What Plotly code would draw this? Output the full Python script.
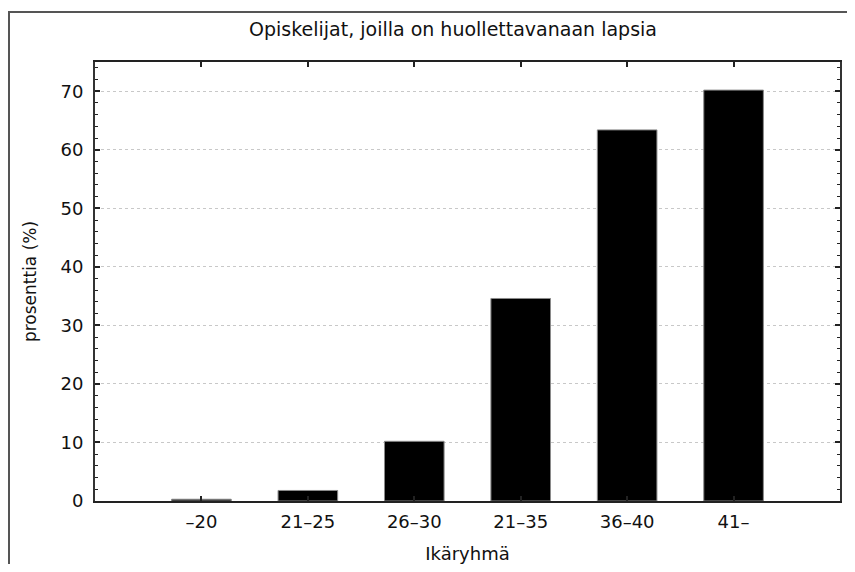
import plotly.graph_objects as go

categories = ["–20", "21–25", "26–30", "21–35", "36–40", "41–"]
values = [0.3, 1.8, 10.2, 34.6, 63.4, 70.2]
y_ticks = [0, 10, 20, 30, 40, 50, 60, 70]

title_text = "Opiskelijat, joilla on huollettavanaan lapsia"
x_title = "Ikäryhmä"
y_title = "prosenttia (%)"

OFF = 8  # page body margin offset
W, H = 855 - 2 * OFF, 572 - 2 * OFF
# target plot area in page pixels: x 95..840, y 62..501
ML = 95 - OFF
MT = 62 - OFF
MR = W - (840 - OFF)
MB = H - (501 - OFF)
PW, PH = W - ML - MR, H - MT - MB

FONT = "DejaVu Sans"
TXT = "#111111"

fig = go.Figure()
fig.add_trace(go.Bar(
    x=categories,
    y=values,
    width=0.56,
    marker=dict(color="#000000", line=dict(color="#8a8a8a", width=1)),
    hoverinfo="x+y",
))

fig.update_layout(
    width=W, height=H,
    margin=dict(l=ML, r=MR, t=MT, b=MB, autoexpand=False),
    paper_bgcolor="white",
    plot_bgcolor="white",
    showlegend=False,
    font=dict(family=FONT, size=18, color=TXT),
    title=dict(text=title_text, x=(453 - OFF) / W, xanchor="center",
               y=1 - (29 - OFF) / H, yanchor="middle",
               font=dict(family=FONT, size=19, color=TXT)),
)

fig.update_xaxes(
    type="category",
    range=[-1, 6],
    showline=True, linecolor="#222222", linewidth=2, mirror="allticks",
    ticks="inside", ticklen=5, tickwidth=1.5, tickcolor="#222222",
    showgrid=False, zeroline=False,
    tickfont=dict(family=FONT, size=18, color=TXT),
    ticklabelstandoff=3,
    title=dict(text=x_title, font=dict(family=FONT, size=18, color=TXT), standoff=20),
    fixedrange=True,
)
fig.update_yaxes(
    range=[0, 75],
    tickvals=y_ticks,
    showline=True, linecolor="#333333", linewidth=2, mirror="allticks",
    ticks="inside", ticklen=5, tickwidth=1.5, tickcolor="#222222",
    minor=dict(dtick=2, ticks="inside", ticklen=3, tickwidth=1.2, tickcolor="#222222", showgrid=False),
    showgrid=True, gridcolor="#c8c8c8", gridwidth=1, griddash="dot",
    zeroline=False,
    tickfont=dict(family=FONT, size=18, color=TXT),
    ticklabelstandoff=6,
    title=dict(text=y_title, font=dict(family=FONT, size=17, color=TXT), standoff=20),
    fixedrange=True,
)

# outer frame (extends beyond right/bottom edges as in the reference)
fig.add_shape(
    type="rect", xref="paper", yref="paper",
    x0=(9 - OFF - ML) / PW, x1=(W + 20 - ML) / PW,
    y0=-(MB + 20) / PH, y1=1 + (MT - (12 - OFF)) / PH,
    line=dict(color="#555555", width=2), fillcolor="rgba(0,0,0,0)", layer="below",
)

fig.write_html("out.html")
